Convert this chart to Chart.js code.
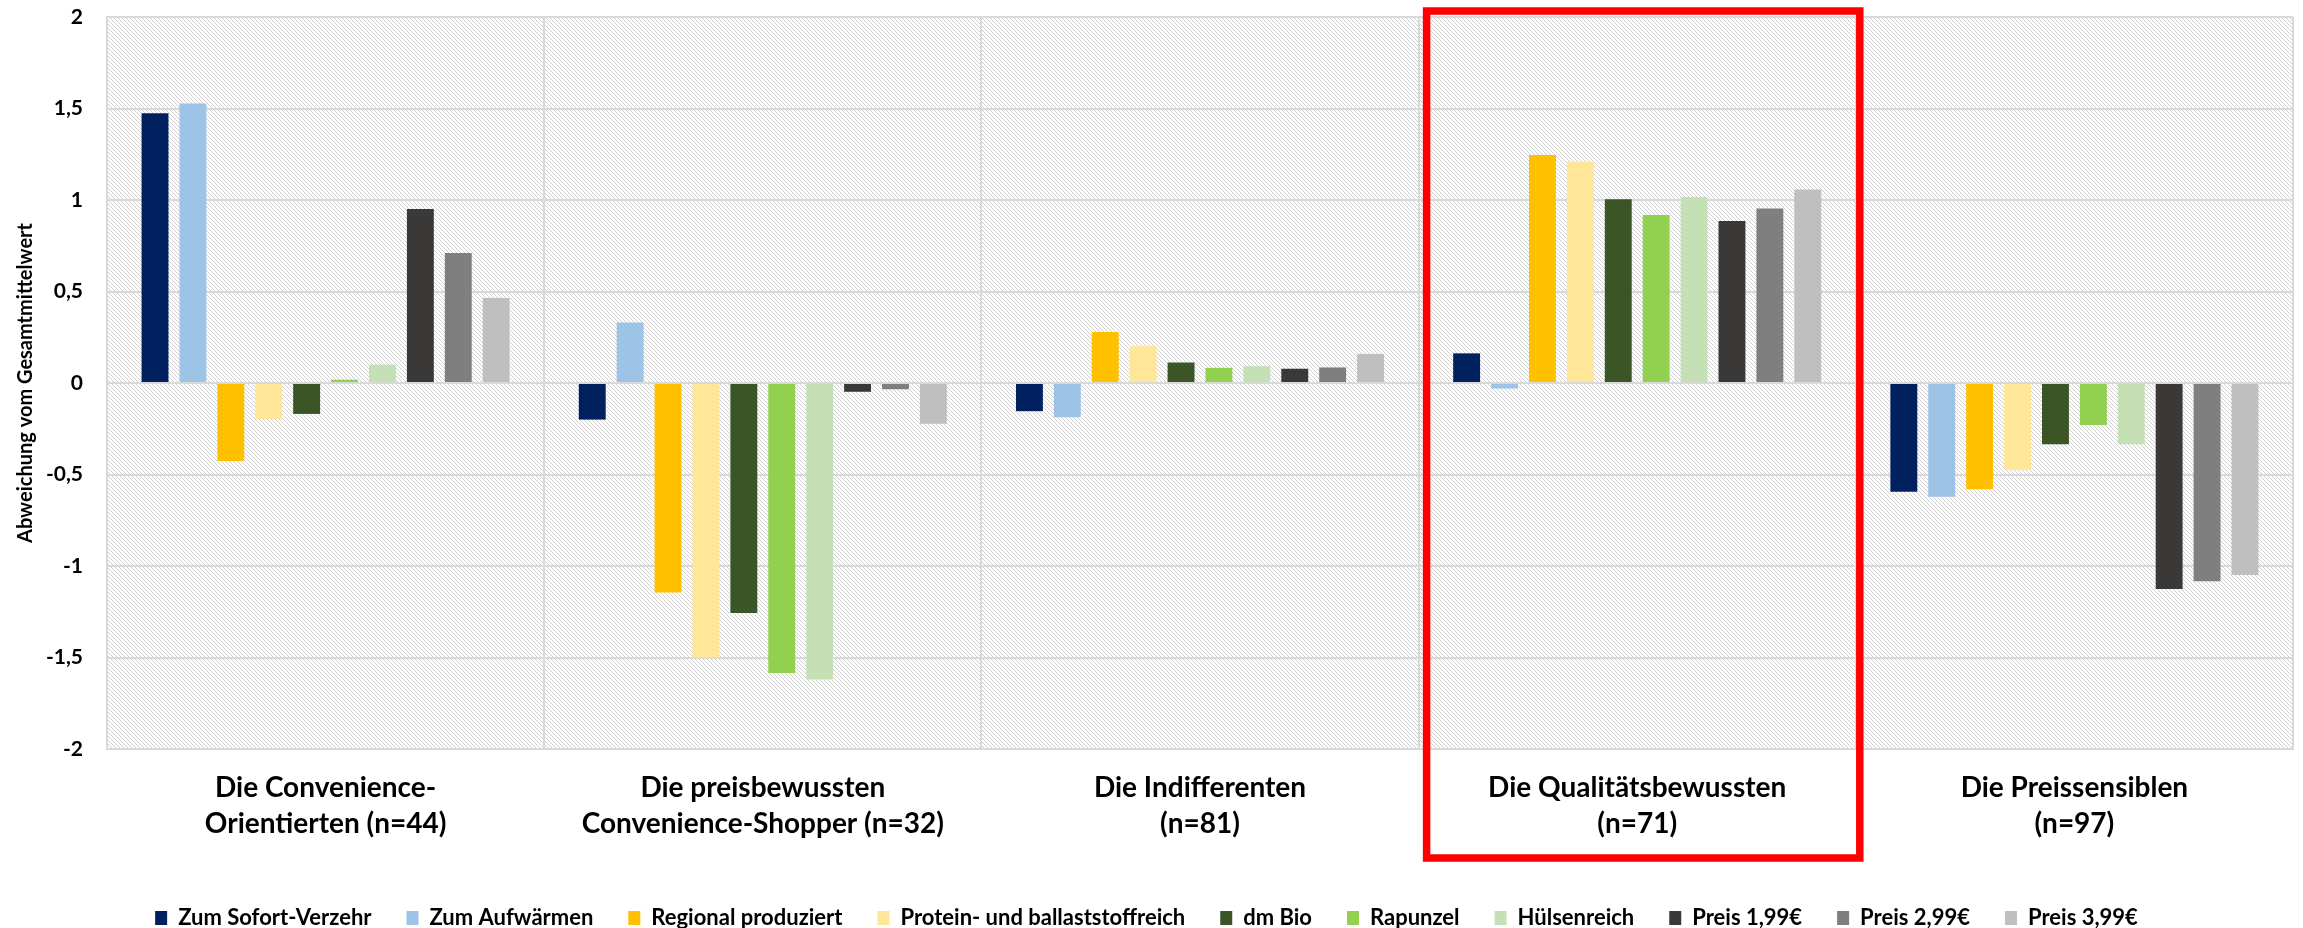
<!DOCTYPE html>
<html>
<head>
<meta charset="utf-8">
<script src="https://cdn.jsdelivr.net/npm/chart.js@4.4.0/dist/chart.umd.min.js"></script>
<style>
html,body{margin:0;padding:0;background:#fff;}
#wrap{width:2303px;height:928px;position:relative;}
canvas{display:block;}
</style>
</head>
<body>
<div id="wrap"><canvas id="c" width="2303" height="928"></canvas></div>
<script>
// ---------- data ----------
const categories = [
  ["Die Convenience-", "Orientierten (n=44)"],
  ["Die preisbewussten", "Convenience-Shopper (n=32)"],
  ["Die Indifferenten", "(n=81)"],
  ["Die Qualitätsbewussten", "(n=71)"],
  ["Die Preissensiblen", "(n=97)"]
];
const seriesNames = ["Zum Sofort-Verzehr", "Zum Aufwärmen", "Regional produziert",
  "Protein- und ballaststoffreich", "dm Bio", "Rapunzel", "Hülsenreich",
  "Preis 1,99€", "Preis 2,99€", "Preis 3,99€"];
const sofortVerzehr = [1.474, -0.200, -0.154, 0.162, -0.594];
const aufwaermen    = [1.528,  0.330, -0.187, -0.030, -0.621];
const regional      = [-0.426, -1.145, 0.279, 1.246, -0.581];
const protein       = [-0.197, -1.500, 0.201, 1.211, -0.475];
const dmBio         = [-0.169, -1.257, 0.112, 1.004, -0.335];
const rapunzel      = [0.018, -1.585, 0.083, 0.918, -0.230];
const huelsenreich  = [0.100, -1.620, 0.092, 1.016, -0.335];
const preis199      = [0.951, -0.048, 0.078, 0.885, -1.126];
const preis299      = [0.710, -0.034, 0.085, 0.954, -1.084];
const preis399      = [0.464, -0.222, 0.159, 1.058, -1.049];
const yTickValues = [-2, -1.5, -1, -0.5, 0, 0.5, 1, 1.5, 2];
const yTickLabels = ["-2", "-1,5", "-1", "-0,5", "0", "0,5", "1", "1,5", "2"];
const yTitle = "Abweichung vom Gesamtmittelwert";
const highlightIndex = 3;

// ---------- styles ----------
const seriesColors = ["#002060", "#9DC3E6", "#FFC000", "#FFE699", "#3B5526",
  "#92D050", "#C5E0B4", "#3A3938", "#7F7F7F", "#BFBFBF"];
const seriesValues = [sofortVerzehr, aufwaermen, regional, protein, dmBio,
  rapunzel, huelsenreich, preis199, preis299, preis399];
const FONT = "Lato, 'Liberation Sans', Arial, sans-serif";
const GRID = "#D9D9D9";

function makePattern(ctx){
  const t = document.createElement('canvas');
  t.width = 4; t.height = 4;
  const c = t.getContext('2d');
  c.fillStyle = '#ffffff'; c.fillRect(0,0,4,4);
  c.fillStyle = '#cfcfcf';
  for (let i=0;i<4;i++) c.fillRect(i,i,1,1);
  return ctx.createPattern(t,'repeat');
}

const bgPlugin = {
  id: 'hatchBg',
  beforeDraw(chart){
    const {ctx, chartArea:a} = chart;
    ctx.save();
    ctx.fillStyle = makePattern(ctx);
    ctx.fillRect(a.left, a.top, a.right-a.left, a.bottom-a.top);
    ctx.restore();
  }
};

const LEGEND_PAD = 35;
const LEGEND_FONT = 22;
const legendFitPlugin = {
  id: 'legendFit',
  beforeUpdate(chart){
    const lg = chart.legend;
    if (lg && !lg._patched){
      const orig = lg.fit;
      lg.fit = function(){ orig.call(this); this.height = 10 + LEGEND_PAD + LEGEND_FONT/2; };
      lg._patched = true;
    }
  }
};

const highlightPlugin = {
  id: 'highlight',
  afterDraw(chart){
    const {ctx, chartArea:a, scales:{x}} = chart;
    const cw = x.getPixelForValue(1) - x.getPixelForValue(0);
    const cx = x.getPixelForValue(highlightIndex);
    const l = cx - cw/2 + 8, r = cx + cw/2 + 4;
    const t = a.top - 6, b = a.bottom + 109;
    ctx.save();
    ctx.strokeStyle = '#FF0000';
    ctx.lineWidth = 7.5;
    ctx.strokeRect(l, t, r-l, b-t);
    ctx.restore();
  }
};

new Chart(document.getElementById('c'), {
  type: 'bar',
  data: {
    labels: categories,
    datasets: seriesNames.map((n,i)=>({
      label: n,
      data: seriesValues[i],
      backgroundColor: seriesColors[i],
      borderWidth: 0,
      categoryPercentage: 0.867,
      barPercentage: 0.71
    }))
  },
  options: {
    responsive: false,
    animation: false,
    devicePixelRatio: 1,
    layout: { padding: { left: 0, right: 10, top: 17, bottom: 0 } },
    plugins: {
      tooltip: { enabled: false },
      legend: {
        position: 'bottom',
        labels: {
          boxWidth: 12, boxHeight: 14,
          padding: LEGEND_PAD,
          color: '#000',
          font: { family: FONT, size: LEGEND_FONT, weight: 'bold' }
        }
      }
    },
    scales: {
      x: {
        grid: { color: GRID, lineWidth: 2, drawTicks: false, offset: true },
        border: { color: GRID, width: 2 },
        ticks: {
          color: '#000', padding: 20, maxRotation: 0, autoSkip: false,
          font: { family: FONT, size: 28, weight: 'bold', lineHeight: 1.32 }
        },
        afterFit(s){ s.height = 123; }
      },
      y: {
        min: -2, max: 2,
        grid: { color: GRID, lineWidth: 2, drawTicks: false },
        border: { color: GRID, width: 2 },
        afterBuildTicks(s){ s.ticks = yTickValues.map(v=>({value:v})); },
        ticks: {
          color: '#000', padding: 24,
          font: { family: FONT, size: 21, weight: 'bold' },
          callback(v){ const i = yTickValues.indexOf(v); return i>=0 ? yTickLabels[i] : ''; }
        },
        title: {
          display: true, text: yTitle, color: '#000',
          padding: { top: 14, bottom: 0 },
          font: { family: FONT, size: 20, weight: 'bold' }
        },
        afterFit(s){ s.width = 107; s.paddingTop = 0; s.paddingBottom = 0; }
      }
    }
  },
  plugins: [bgPlugin, legendFitPlugin, highlightPlugin]
});
</script>
</body>
</html>
